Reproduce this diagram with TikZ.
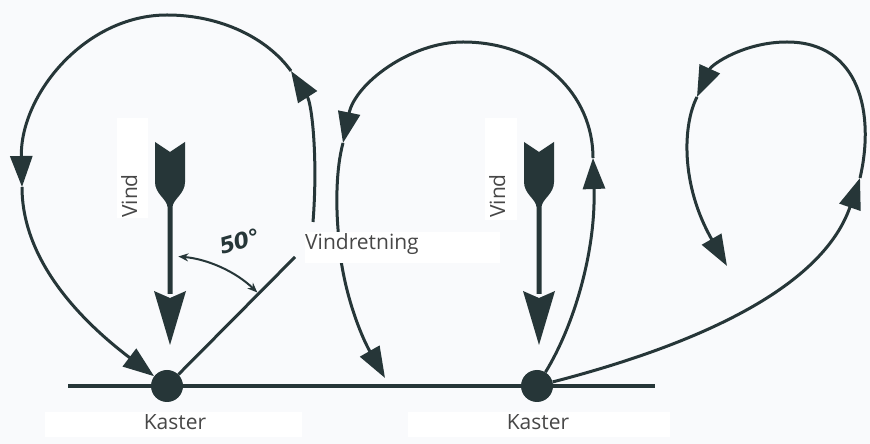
\documentclass[tikz,border=0pt]{standalone}
\usepackage{fontspec}
\setmainfont{Open Sans}
\newfontfamily\degfont{DejaVu Sans Bold Oblique}
\usetikzlibrary{arrows.meta}
\definecolor{ink}{HTML}{263638}
\definecolor{txt}{HTML}{474747}
\definecolor{paper}{HTML}{F9FAFC}
\tikzset{
  flight/.style={draw=ink,line width=3pt},
  flighttip/.style={-{Triangle[length=31pt,width=22pt]}},
  castdot/.style={circle,fill=ink,minimum size=32pt,inner sep=0pt},
  lbl/.style={font=\fontsize{21}{24}\selectfont,text=txt,inner sep=0pt},
  windarrow/.pic={
    \fill[ink] (-15,302) -- (0,292) -- (15,302) -- (15,262)
      .. controls (15,250) and (3,245) .. (2.5,237) -- (2.5,150)
      -- (-2.5,150) -- (-2.5,237) .. controls (-3,245) and (-15,250) .. (-15,262) -- cycle;
    \fill[ink] (0,99) -- (-16,153) -- (0,146) -- (16,153) -- cycle;
  }
}
\begin{document}
\begin{tikzpicture}[x=1pt,y=1pt]
\fill[paper] (0,0) rectangle (870,444);
\useasboundingbox (0,0) rectangle (870,444);

% white label panels
\fill[white] (45,7) rectangle (302,32);
\fill[white] (408,7) rectangle (670,32);
\fill[white] (117,226) rectangle (148,326);
\fill[white] (485,224) rectangle (517,326);

% ground line and casters
\coordinate (gl) at (68,58);
\coordinate (gr) at (655,58);
\draw[ink,line width=4pt] (gl) -- (gr);
\node[castdot] (k1) at (167,58) {};
\node[castdot] (k2) at (537,58) {};
\node[lbl,anchor=base] (t1) at (175,14) {Kaster};
\node[lbl,anchor=base] (t2) at (538,14) {Kaster};

% wind arrows
\pic at (170,0) {windarrow};
\pic at (539,0) {windarrow};
\node[lbl,rotate=90,anchor=base west] (v1) at (137,226) {Vind};
\node[lbl,rotate=90,anchor=base west] (v2) at (505,226) {Vind};

% first flight: launched 50 degrees off the wind
\coordinate (g1) at (295,187);
\draw[flight] (k1) -- (g1);
\coordinate (r1) at (313,222);
\draw[flight,flighttip] (r1) .. controls (318,285) and (312,340) .. (291,373) coordinate (a1);
\draw[flight,flighttip] (a1) .. controls (268,405) and (222,429) .. (167,429)
  .. controls (85,429) and (20,349) .. (22,257) coordinate (a2);
\draw[flight,flighttip] (a2) .. controls (22,184) and (80,124) .. (k1);

% angle marker
\draw[ink,line width=2pt,{Stealth[length=10pt,width=8pt]}-{Stealth[length=10pt,width=8pt]}]
  ([shift={(85:130)}]k1.center) arc[start angle=85,end angle=46,radius=130];
\node[font=\degfont\fontsize{22}{24}\selectfont,text=ink,rotate=16,inner sep=0pt] (deg) at (240,203) {50°};

% second flight
\draw[flight,flighttip] (k2) .. controls (575,120) and (596,195) .. (593,286) coordinate (b1);
\draw[flight,flighttip] (b1) .. controls (593,350) and (540,402) .. (463,402)
  .. controls (410,402) and (355,360) .. (343,301) coordinate (b2);
\draw[flight,flighttip] (b2) .. controls (336,275) and (336,240) .. (338,215)
  .. controls (340,160) and (360,110) .. (385,66) coordinate (b3);

% third flight
\draw[flight,flighttip] (k2) .. controls (680,95) and (820,150) .. (860,266) coordinate (c1);
\draw[flight,flighttip] (c1) .. controls (875,330) and (860,402) .. (787,402)
  .. controls (745,402) and (712,380) .. (697,347) coordinate (c2);
\draw[flight,flighttip] (c2) .. controls (683,320) and (680,260) .. (727,178) coordinate (c3);

% direction label over the flights
\fill[white] (305,181) rectangle (500,212);
\node[lbl,anchor=base west] (dir) at (305,194) {Vindretning};
\end{tikzpicture}
\end{document}
